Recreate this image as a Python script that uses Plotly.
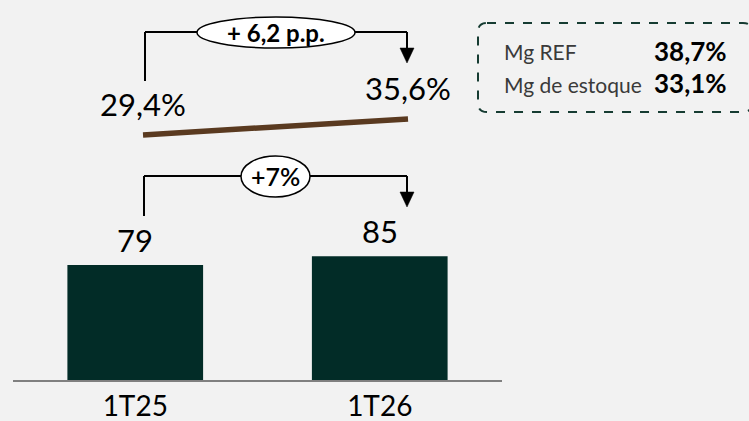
import plotly.graph_objects as go

# Dados
periodos = ["1T25", "1T26"]
receita = [79, 85]
receita_txt = ["79", "85"]
margem = [29.4, 35.6]
margem_txt = ["29,4%", "35,6%"]
var_margem = "+ 6,2 p.p."
var_receita = "+7%"
box_labels = ["Mg REF", "Mg de estoque"]
box_values = ["38,7%", "33,1%"]

bg = "#f2f2f2"
bar_color = "#022c27"
line_color = "#5a3a20"
box_color = "#163c32"
text_color = "black"
font_family = "Lato, Open Sans, sans-serif"

W, H = 749, 421
L, R, T, B = 13, 247, 0, 41
PW, PH = W - L - R, H - T - B


def fx(px):
    # pixel -> fração do paper (x)
    return (px - L) / PW


def fy(py):
    # pixel -> fração do paper (y)
    return (H - B - py) / PH


fig = go.Figure()

# Barras
fig.add_trace(go.Bar(
    x=periodos, y=receita, width=0.555,
    marker=dict(color=bar_color, line=dict(width=0)),
    xaxis="x", yaxis="y", hoverinfo="skip"
))

# Linha de margem
fig.add_trace(go.Scatter(
    x=periodos, y=margem, mode="lines",
    line=dict(color=line_color, width=5.5),
    xaxis="x2", yaxis="y2", hoverinfo="skip"
))

annotations = []
for p, v, t in zip(periodos, receita, receita_txt):
    annotations.append(dict(x=p, y=v, xref="x", yref="y", text=t, showarrow=False,
                            yanchor="middle", yshift=25,
                            font=dict(size=31, color=text_color, family=font_family)))
for p, v, t in zip(periodos, margem, margem_txt):
    annotations.append(dict(x=p, y=v, xref="x2", yref="y2", text=t, showarrow=False,
                            yanchor="middle", yshift=31,
                            font=dict(size=31, color=text_color, family=font_family)))

shapes = []


def bracket(y_h, y_left, x_l, x_r, ell_x0, ell_x1, ell_y0, ell_y1, label, size, weight):
    ln = dict(color="black", width=2)
    shapes.append(dict(type="line", xref="paper", yref="paper", x0=fx(x_l), x1=fx(x_l),
                       y0=fy(y_h), y1=fy(y_left), line=ln))
    shapes.append(dict(type="line", xref="paper", yref="paper", x0=fx(x_l), x1=fx(x_r),
                       y0=fy(y_h), y1=fy(y_h), line=ln))
    shapes.append(dict(type="line", xref="paper", yref="paper", x0=fx(x_r), x1=fx(x_r),
                       y0=fy(y_h), y1=fy(y_h + 17), line=ln))
    tri = "M {} {} L {} {} L {} {} Z".format(fx(x_r - 7), fy(y_h + 16), fx(x_r + 7), fy(y_h + 16),
                                             fx(x_r), fy(y_h + 31))
    shapes.append(dict(type="path", xref="paper", yref="paper", path=tri,
                       fillcolor="black", line=dict(color="black", width=0.5)))
    shapes.append(dict(type="circle", xref="paper", yref="paper", x0=fx(ell_x0), x1=fx(ell_x1),
                       y0=fy(ell_y0), y1=fy(ell_y1), fillcolor="white",
                       line=dict(color="black", width=1.5)))
    annotations.append(dict(x=fx((ell_x0 + ell_x1) / 2), y=fy((ell_y0 + ell_y1) / 2),
                            xref="paper", yref="paper", text=label, showarrow=False,
                            xanchor="center", yanchor="middle",
                            font=dict(size=size, color=text_color, family=font_family, weight=weight)))


bracket(32, 81, 145, 407, 197, 355, 17, 48, "<b>" + var_margem + "</b>", 24, 700)
bracket(176, 216, 144, 407, 241, 310, 156, 197, var_receita, 25, 600)

# Caixa tracejada com bordas arredondadas
bx0, bx1, by0, by1, r = 478, 752, 23, 112, 9
box_path = ("M {a} {b} L {c} {b} Q {d} {b} {d} {e} L {d} {f} Q {d} {g} {c} {g} "
            "L {a} {g} Q {h} {g} {h} {f} L {h} {e} Q {h} {b} {a} {b} Z").format(
    a=fx(bx0 + r), b=fy(by0), c=fx(bx1 - r), d=fx(bx1), e=fy(by0 + r),
    f=fy(by1 - r), g=fy(by1), h=fx(bx0))
shapes.append(dict(type="path", xref="paper", yref="paper", path=box_path,
                   line=dict(color=box_color, width=2, dash="dash")))

for i, (lab, val) in enumerate(zip(box_labels, box_values)):
    yc = 52 + i * 32
    annotations.append(dict(x=fx(502), y=fy(yc), xref="paper", yref="paper", text=lab,
                            showarrow=False, xanchor="left", yanchor="middle",
                            font=dict(size=21, color="#3a3a3a", family=font_family)))
    annotations.append(dict(x=fx(729), y=fy(yc - 1), xref="paper", yref="paper",
                            text="<b>" + val + "</b>", showarrow=False,
                            xanchor="right", yanchor="middle",
                            font=dict(size=26, color=text_color, family=font_family)))

fig.update_layout(
    width=W, height=H,
    margin=dict(l=L, r=R, t=T, b=B, autoexpand=False),
    plot_bgcolor=bg, paper_bgcolor=bg,
    showlegend=False,
    font=dict(family=font_family, color=text_color),
    xaxis=dict(type="category", range=[-0.5, 1.5], showline=True, linecolor="#808080",
               linewidth=2, showgrid=False, zeroline=False, ticks="", automargin=False,
               tickfont=dict(size=28, color=text_color, family=font_family),
               ticklabelstandoff=0),
    yaxis=dict(range=[0, 261], visible=False, fixedrange=True, automargin=False),
    xaxis2=dict(type="category", overlaying="x", range=[-0.4906, 1.3547], visible=False),
    yaxis2=dict(overlaying="y", range=[-65.6, 81.7], visible=False),
    shapes=shapes,
    annotations=annotations,
)

fig.write_html("out.html", config={"displayModeBar": False},
               post_script="document.body.style.margin='0';document.body.style.background='%s';" % bg)
